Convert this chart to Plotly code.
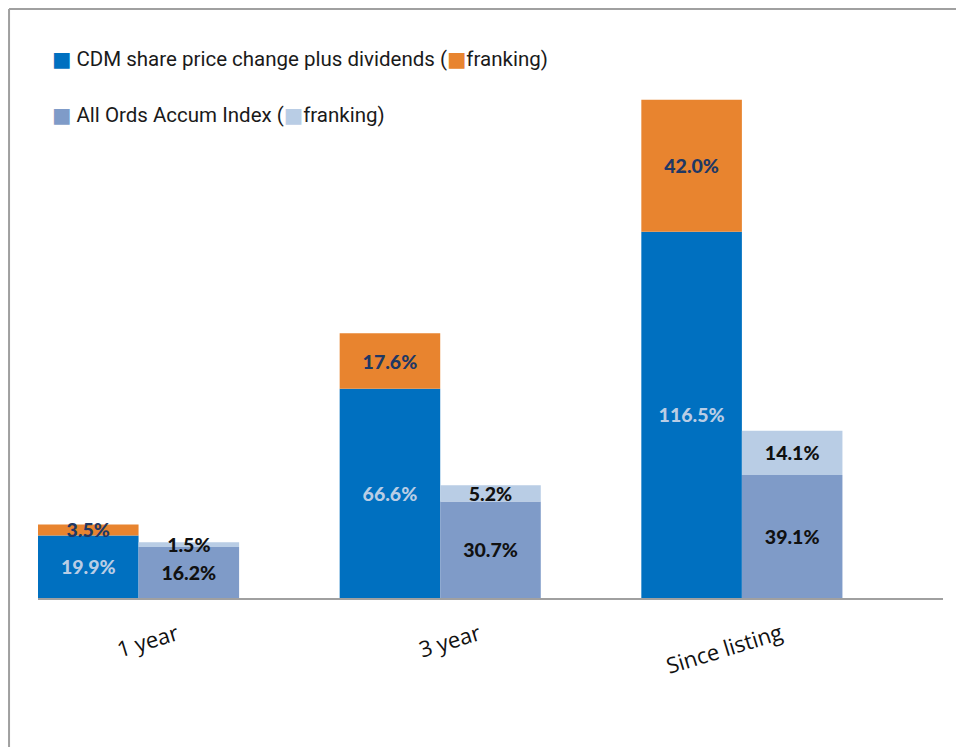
import plotly.graph_objects as go

categories = ["1 year", "3 year", "Since listing"]
cdm_price_div = [19.9, 66.6, 116.5]
cdm_franking = [3.5, 17.6, 42.0]
aord_index = [16.2, 30.7, 39.1]
aord_franking = [1.5, 5.2, 14.1]

C_CDM = "#0070C0"
C_CDM_F = "#E8842F"
C_AO = "#7F9BC8"
C_AO_F = "#B9CDE5"

W = 1/3
lab_font = dict(family="Lato, DejaVu Sans", size=19.5, weight=900)

def fmt(v):
    return [f"{x:.1f}%" for x in v]

fig = go.Figure()
fig.add_trace(go.Bar(x=categories, y=cdm_price_div, base=0, width=W, offset=-W,
                     marker=dict(color=C_CDM, line=dict(width=0)),
                     text=fmt(cdm_price_div), textfont=dict(color="#B9CDE5", **lab_font)))
fig.add_trace(go.Bar(x=categories, y=cdm_franking, base=cdm_price_div, width=W, offset=-W,
                     marker=dict(color=C_CDM_F, line=dict(width=0)),
                     text=fmt(cdm_franking), textfont=dict(color="#1F3864", **lab_font)))
fig.add_trace(go.Bar(x=categories, y=aord_index, base=0, width=W, offset=0,
                     marker=dict(color=C_AO, line=dict(width=0)),
                     text=fmt(aord_index), textfont=dict(color="#111111", **lab_font)))
fig.add_trace(go.Bar(x=categories, y=aord_franking, base=aord_index, width=W, offset=0,
                     marker=dict(color=C_AO_F, line=dict(width=0)),
                     text=fmt(aord_franking), textfont=dict(color="#111111", **lab_font)))
fig.update_traces(textposition="inside", insidetextanchor="middle", textangle=0,
                  constraintext="none", cliponaxis=False, hoverinfo="skip")

# category labels, rotated, end-anchored a little right of each pair of bars
for c in categories:
    fig.add_annotation(x=c, xref="x", yref="paper", y=-0.029, text=c, textangle=-17,
                       showarrow=False, xanchor="right", yanchor="top", xshift=46,
                       font=dict(family="Open Sans, DejaVu Sans", size=22, color="#111111"))

leg_font = dict(family="Roboto, DejaVu Sans", size=20.5, color="#1a1a1a")
fig.add_annotation(xref="paper", yref="paper", x=0.013, y=0.980, xanchor="left", yanchor="middle",
                   showarrow=False, font=leg_font,
                   text=f'<span style="color:{C_CDM}">■</span> CDM share price change plus dividends (<span style="color:{C_CDM_F}">■</span>franking)')
fig.add_annotation(xref="paper", yref="paper", x=0.013, y=0.878, xanchor="left", yanchor="middle",
                   showarrow=False, font=leg_font,
                   text=f'<span style="color:{C_AO}">■</span> All Ords Accum Index (<span style="color:{C_AO_F}">■</span>franking)')

# outer frame (top and left)
fig.add_shape(type="line", xref="paper", yref="paper", x0=-0.032, x1=1.03, y0=1.071, y1=1.071,
              line=dict(color="#A0A0A0", width=2))
fig.add_shape(type="line", xref="paper", yref="paper", x0=-0.032, x1=-0.032, y0=1.071, y1=-0.3,
              line=dict(color="#A0A0A0", width=2))

fig.update_layout(
    width=956, height=739,
    margin=dict(l=30, r=21, t=40, b=149),
    barmode="overlay",
    showlegend=False,
    plot_bgcolor="white", paper_bgcolor="white",
    uniformtext=dict(mode="show", minsize=19.5),
    xaxis=dict(range=[-1/3, 8/3], showline=True, linecolor="#A0A0A0", linewidth=2,
               showticklabels=False, ticks="",
               showgrid=False, zeroline=False),
    yaxis=dict(range=[0, 175], visible=False, showgrid=False, zeroline=False),
)

fig.write_html("out.html")
